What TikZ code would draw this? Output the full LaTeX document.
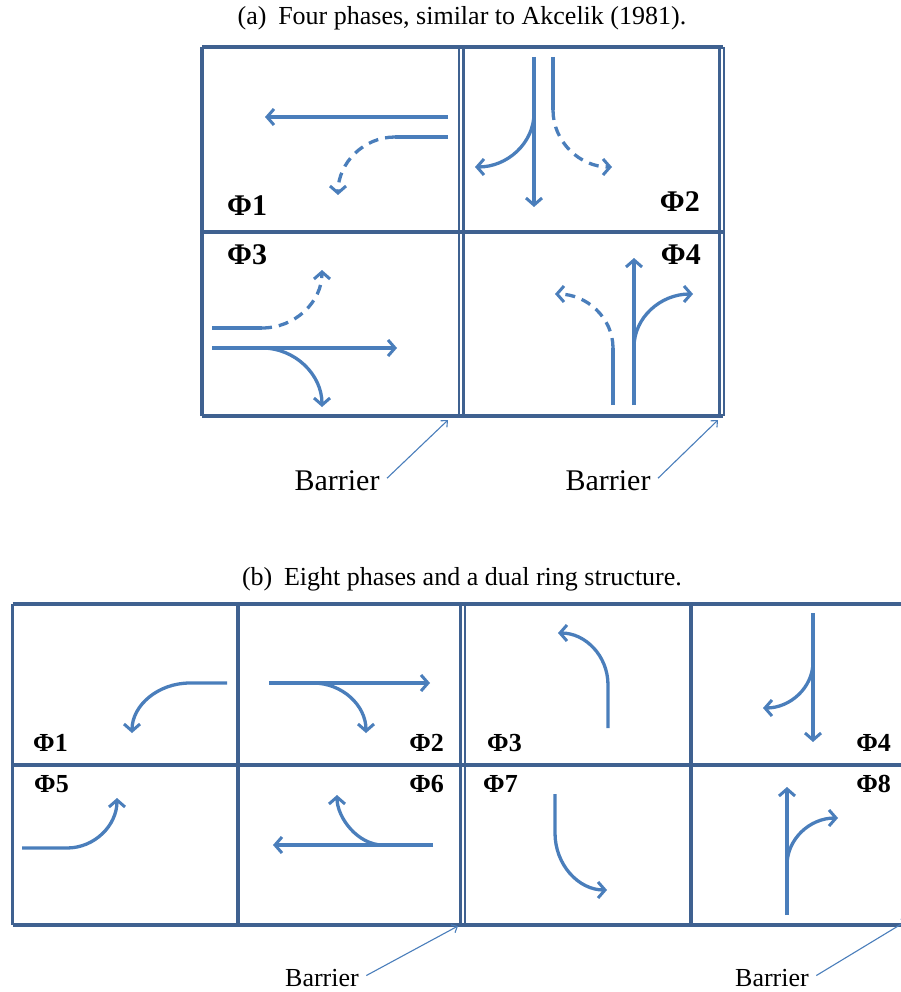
\documentclass[tikz,border=0pt]{standalone}
\usepackage{fontspec}
\setmainfont{Liberation Serif}
\usetikzlibrary{arrows.meta}
\definecolor{gridline}{HTML}{3F6190}
\definecolor{flowblue}{HTML}{4A7EBB}

\begin{document}
\begin{tikzpicture}[x=1pt, y=-1pt,
  cell/.style={gridline, line width=3.2pt},
  wall/.style={gridline, line width=2.2pt},
  lane/.style={flowblue, line width=3.3pt},
  flow/.style={lane, -{Straight Barb[length=7pt,width=16pt,line width=3pt]}},
  perm/.style={flow, dash pattern=on 10pt off 7pt},
  ptag/.style={font=\fontsize{30}{33}\selectfont\bfseries, inner sep=0pt},
  ptags/.style={font=\fontsize{26}{29}\selectfont\bfseries, inner sep=0pt},
  note/.style={flowblue, line width=1.1pt, -{Straight Barb[length=5pt,width=9pt,line width=1.1pt]}}]
  \useasboundingbox (0,0) rectangle (901,992);
  \clip (0,0) rectangle (901,992);

  % (a) four phases
  \node[font=\fontsize{26}{30}\selectfont, anchor=base] (capa) at (462,25) {(a)\hspace{0.45em}Four phases, similar to Akcelik (1981).};
  \draw[cell] (202,47) -- (723,47) (202,416) -- (723,416) (202,232) -- (723,232) (202,47) -- (202,416);
  \draw[wall] (459,47) -- (459,416) (463.5,47) -- (463.5,416) (719.5,47) -- (719.5,416) (724,47) -- (724,416);

  \node[ptag, anchor=base west] (a1) at (227,216) {Φ1};
  \node[ptag, anchor=base east] (a2) at (700,212) {Φ2};
  \node[ptag, anchor=base west] (a3) at (227,264) {Φ3};
  \node[ptag, anchor=base east] (a4) at (701,264) {Φ4};

  \draw[flow] (448,117) -- (265,117);
  \draw[lane] (448,137) -- (395,137);
  \draw[perm] (395,137) .. controls (363.5,137) and (338,163) .. (338,195);

  \draw[flow] (534,57) -- (534,207);
  \draw[flow] (534,113) .. controls (534,143) and (507.5,167) .. (475,167);
  \draw[lane] (553,57) -- (553,110);
  \draw[perm] (553,110) .. controls (553,141.5) and (579.5,167) .. (612,167);

  \draw[lane] (212,328) -- (262,328);
  \draw[perm] (262,328) .. controls (295,328) and (322,302) .. (322,270);
  \draw[flow] (212,348) -- (397,348);
  \draw[flow] (262,348) .. controls (295,348) and (322,374.5) .. (322,407);

  \draw[flow] (634,405) -- (634,258);
  \draw[flow] (634,347) .. controls (634,317.7) and (660.4,294) .. (693,294);
  \draw[lane] (613,405) -- (613,348);
  \draw[perm] (613,348) .. controls (613,318) and (587,294) .. (555,294);

  \node[font=\fontsize{30}{34}\selectfont, anchor=base] (bara) at (337,490) {Barrier};
  \node[font=\fontsize{30}{34}\selectfont, anchor=base] (barb) at (608,490) {Barrier};
  \coordinate (ra) at (448,420);
  \coordinate (rb) at (718,420);
  \draw[note] (bara.east) ++(4,-2) -- (ra);
  \draw[note] (barb.east) ++(4,-2) -- (rb);

  % (b) eight phases, dual ring
  \node[font=\fontsize{26}{30}\selectfont, anchor=base] (capb) at (462,585) {(b)\hspace{0.45em}Eight phases and a dual ring structure.};
  \draw[cell] (12.7,604) -- (910,604) (12.7,765) -- (910,765) (12.7,925) -- (910,925) (12.7,604) -- (12.7,925) (238,604) -- (238,925) (691,604) -- (691,925);
  \draw[wall] (460.5,604) -- (460.5,925) (465,604) -- (465,925);

  \node[ptags, anchor=base west] (b1) at (33,751) {Φ1};
  \node[ptags, anchor=base east] (b2) at (444,751) {Φ2};
  \node[ptags, anchor=base west] (b3) at (487,751) {Φ3};
  \node[ptags, anchor=base east] (b4) at (891,751) {Φ4};
  \node[ptags, anchor=base west] (b5) at (34,792) {Φ5};
  \node[ptags, anchor=base east] (b6) at (444,792) {Φ6};
  \node[ptags, anchor=base west] (b7) at (483,792) {Φ7};
  \node[ptags, anchor=base east] (b8) at (891,792) {Φ8};

  \draw[flow] (227,683) -- (190,683) .. controls (158,683) and (132,705.4) .. (132,733);
  \draw[flow] (269,683) -- (430,683);
  \draw[flow] (313,683) .. controls (342.3,683) and (366,705.4) .. (366,733);
  \draw[flow] (608,728) -- (608,685) .. controls (608,656) and (585.6,633) .. (558,633);
  \draw[flow] (813,613) -- (813,742);
  \draw[flow] (813,662) .. controls (813,687.4) and (790.4,708) .. (763,708);
  \draw[flow] (22,848) -- (67,848) .. controls (94.6,848) and (117,825.4) .. (117,798);
  \draw[flow] (433,845) -- (273,845);
  \draw[flow] (383,845) .. controls (357.6,845) and (337,817.4) .. (337,795);
  \draw[flow] (555,794) -- (555,833) .. controls (555,864.5) and (578.3,890) .. (607,890);
  \draw[flow] (787,915) -- (787,787);
  \draw[flow] (787,865) .. controls (787,839) and (809.8,818) .. (838,818);

  \node[font=\fontsize{26}{30}\selectfont, anchor=base] (barc) at (322,986) {Barrier};
  \node[font=\fontsize{26}{30}\selectfont, anchor=base] (bard) at (772,986) {Barrier};
  \coordinate (rc) at (458,926);
  \coordinate (rd) at (908,920);
  \draw[note] (barc.east) ++(4,-2) -- (rc);
  \draw[note] (bard.east) ++(4,-2) -- (rd);
\end{tikzpicture}
\end{document}
